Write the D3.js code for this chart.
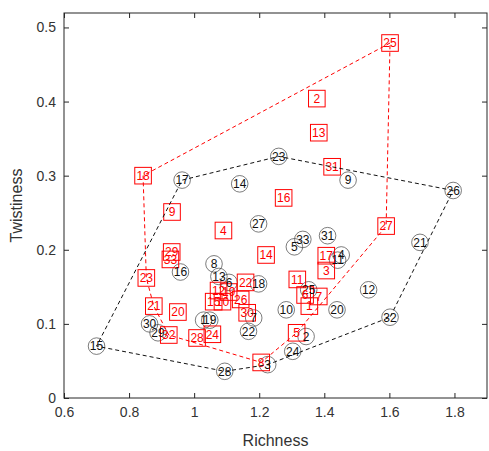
<!DOCTYPE html>
<html>
<head>
<meta charset="utf-8">
<script src="https://cdn.jsdelivr.net/npm/d3@7"></script>
<style>
  body { margin: 0; background: #fff; }
  text { font-family: "Liberation Sans", Arial, sans-serif; }
</style>
</head>
<body>
<div id="chart"></div>
<script>
// black circles (group A), labelled 1..33
const richA = [1.029, 1.344, 1.226, 1.452, 1.308, 1.107, 1.183, 1.061, 1.473, 1.283,
               1.441, 1.536, 1.076, 1.140, 0.700, 0.958, 0.963, 1.198, 1.048, 1.439,
               1.694, 1.167, 1.260, 1.303, 1.352, 1.796, 1.198, 1.094, 0.889, 0.863,
               1.410, 1.602, 1.334];
const twistA = [0.105, 0.083, 0.045, 0.193, 0.204, 0.156, 0.108, 0.181, 0.294, 0.119,
                0.186, 0.146, 0.164, 0.289, 0.070, 0.170, 0.294, 0.154, 0.105, 0.119,
                0.210, 0.090, 0.326, 0.063, 0.146, 0.280, 0.235, 0.036, 0.088, 0.100,
                0.219, 0.109, 0.214];

// red squares (group B), labelled 1..33
const richB = [1.354, 1.377, 1.406, 1.090, 1.315, 1.341, 1.383, 1.206, 0.932, 1.087,
               1.317, 1.075, 1.383, 1.221, 1.060, 1.275, 1.406, 0.843, 1.106, 0.950,
               0.876, 1.158, 0.853, 1.056, 1.602, 1.143, 1.590, 1.009, 0.931, 1.163,
               1.424, 0.922, 0.927];
const twistB = [0.124, 0.404, 0.172, 0.226, 0.088, 0.139, 0.137, 0.048, 0.251, 0.130,
                0.160, 0.145, 0.358, 0.193, 0.130, 0.270, 0.192, 0.300, 0.143, 0.116,
                0.124, 0.156, 0.162, 0.086, 0.479, 0.133, 0.232, 0.081, 0.197, 0.115,
                0.312, 0.085, 0.187];

const xTicks = [0.6, 0.8, 1, 1.2, 1.4, 1.6, 1.8];
const yTicks = [0, 0.1, 0.2, 0.3, 0.4, 0.5];

const width = 489, height = 451;
const margin = {left: 64, right: 2, top: 13, bottom: 53};

const svg = d3.select("#chart").append("svg")
    .attr("width", width)
    .attr("height", height);

const x = d3.scaleLinear().domain([0.6, 1.9]).range([margin.left, width - margin.right]);
const y = d3.scaleLinear().domain([0, 0.5195]).range([height - margin.bottom, margin.top]);

const ptsA = richA.map((r, i) => ({x: r, y: twistA[i], id: i + 1}));
const ptsB = richB.map((r, i) => ({x: r, y: twistB[i], id: i + 1}));

// axes box
const axisColor = "#262626";
svg.append("rect")
    .attr("x", x(0.6)).attr("y", y(0.5195))
    .attr("width", x(1.9) - x(0.6)).attr("height", y(0) - y(0.5195))
    .attr("fill", "none").attr("stroke", axisColor).attr("stroke-width", 1);

const xb = svg.append("g").attr("transform", `translate(0,${y(0)})`)
    .call(d3.axisBottom(x).tickValues(xTicks).tickSize(-5).tickPadding(9).tickFormat(d3.format("")));
const xt = svg.append("g").attr("transform", `translate(0,${y(0.5195)})`)
    .call(d3.axisTop(x).tickValues(xTicks).tickSize(-5).tickFormat(""));
const yl = svg.append("g").attr("transform", `translate(${x(0.6)},0)`)
    .call(d3.axisLeft(y).tickValues(yTicks).tickSize(-5).tickPadding(8).tickFormat(d3.format("")));
const yr = svg.append("g").attr("transform", `translate(${x(1.9)},0)`)
    .call(d3.axisRight(y).tickValues(yTicks).tickSize(-5).tickFormat(""));

[xb, xt, yl, yr].forEach(g => {
  g.select(".domain").remove();
  g.selectAll(".tick line").attr("stroke", axisColor);
  g.selectAll(".tick text").attr("fill", "#333").style("font-size", "14px");
});

svg.append("text")
    .attr("x", (x(0.6) + x(1.9)) / 2).attr("y", 446)
    .attr("text-anchor", "middle").attr("fill", "#333")
    .style("font-size", "16px").text("Richness");

svg.append("text")
    .attr("transform", `translate(22,${(y(0) + y(0.5195)) / 2}) rotate(-90)`)
    .attr("text-anchor", "middle").attr("fill", "#333")
    .style("font-size", "16px").text("Twistiness");

// markers
svg.selectAll(".circA").data(ptsA).join("circle")
    .attr("cx", d => x(d.x)).attr("cy", d => y(d.y)).attr("r", 8.3)
    .attr("fill", "none").attr("stroke", "#444").attr("stroke-width", 0.7);

svg.selectAll(".sqB").data(ptsB).join("rect")
    .attr("x", d => x(d.x) - 8.3).attr("y", d => y(d.y) - 8.3)
    .attr("width", 16.6).attr("height", 16.6)
    .attr("fill", "none").attr("stroke", "red").attr("stroke-width", 1);

// labels
svg.selectAll(".labA").data(ptsA).join("text")
    .attr("x", d => x(d.x)).attr("y", d => y(d.y) + 4.3)
    .attr("text-anchor", "middle").attr("fill", "#111")
    .style("font-size", "12px").text(d => d.id);

svg.selectAll(".labB").data(ptsB).join("text")
    .attr("x", d => x(d.x)).attr("y", d => y(d.y) + 4.3)
    .attr("text-anchor", "middle").attr("fill", "red")
    .style("font-size", "12px").text(d => d.id);

// convex hulls
const hullA = d3.polygonHull(ptsA.map(d => [x(d.x), y(d.y)]));
const hullB = d3.polygonHull(ptsB.map(d => [x(d.x), y(d.y)]));
const line = d3.line().curve(d3.curveLinearClosed);

svg.append("path").attr("d", line(hullA))
    .attr("fill", "none").attr("stroke", "#111").attr("stroke-width", 1)
    .attr("stroke-dasharray", "4,3");
svg.append("path").attr("d", line(hullB))
    .attr("fill", "none").attr("stroke", "red").attr("stroke-width", 1)
    .attr("stroke-dasharray", "4,3");
</script>
</body>
</html>
